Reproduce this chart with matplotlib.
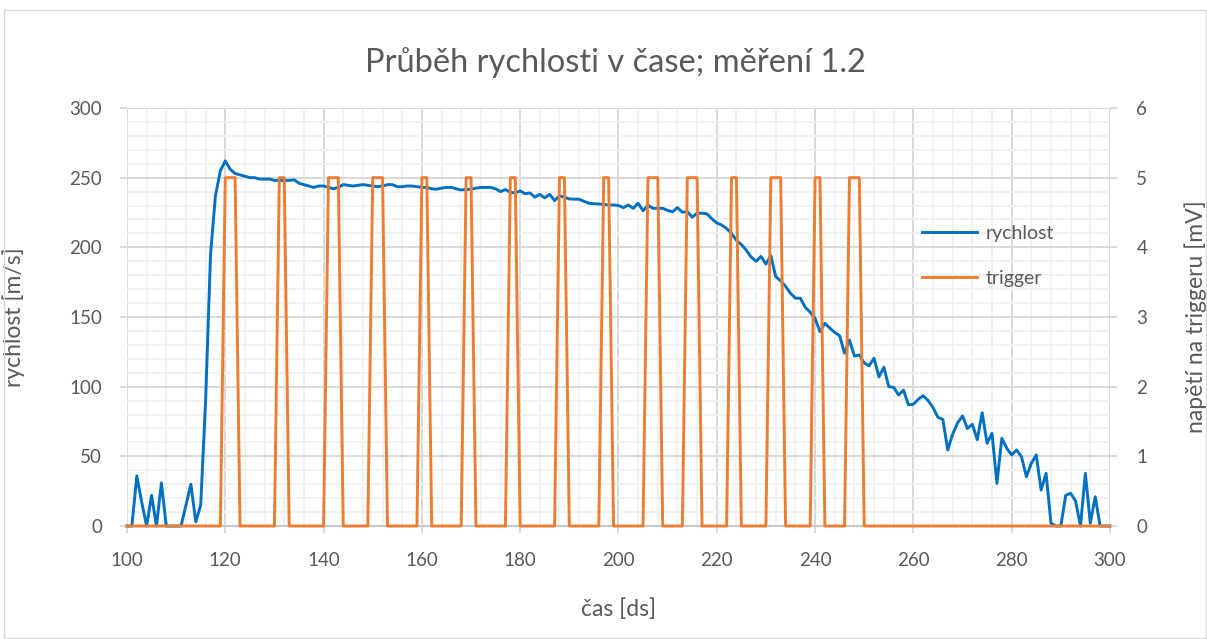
import numpy as np
import matplotlib
matplotlib.use("Agg")
import matplotlib.pyplot as plt
from matplotlib.ticker import MultipleLocator
from matplotlib.patches import Rectangle

# ---------------------------------------------------------------- data
# time samples [ds], one per ds
cas = np.arange(100, 301)

# rychlost [m/s]
rychlost = [
    0, 0, 36, 17, 0, 22, 0, 31, 0, 0,                                   # 100
    0, 0, 15, 30, 3, 15, 90, 195, 237, 255,                             # 110
    262, 256, 253, 252, 251, 250, 250, 249, 249, 249,                   # 120
    248, 248, 248, 248, 248.5, 246, 245, 244, 243, 244,                 # 130
    244, 243, 242, 243, 245, 244.5, 244, 244.5, 245, 244.5,             # 140
    244, 243.5, 244, 245, 245, 243.5, 243.5, 244, 244, 243.5,           # 150
    243, 243, 242, 241.7, 242.5, 243, 243, 242, 241.2, 241.5,           # 160
    241.7, 242.5, 243, 243, 243, 242, 240, 241.5, 239.5, 239,           # 170
    240.5, 238.5, 239, 236, 238, 235.5, 238, 233.5, 237, 236,           # 180
    234.7, 234.6, 234.5, 233, 231.6, 231.3, 231.1, 230.8, 230.4, 230.4, # 190
    230, 228.5, 230.4, 228, 231.6, 226.3, 230.2, 228, 228, 228,         # 200
    226.5, 225.5, 228.5, 225.2, 225.7, 221.6, 224.5, 224.5, 224, 220.5, # 210
    217.5, 216, 213.5, 210, 205, 202, 198, 193, 190, 193.5,             # 220
    188, 194, 179, 176, 172, 167, 163.5, 163.5, 157, 153.5,             # 230
    149, 139.5, 145.5, 142, 139, 136.5, 124, 133.5, 122, 122.8,         # 240
    117, 115, 120.4, 107, 113.9, 100, 99.5, 94, 97.5, 87,               # 250
    87.4, 91, 93.5, 90, 85, 78, 76.5, 54.6, 66, 74,                     # 260
    79, 70, 73, 62, 81.3, 59.4, 66.5, 30.6, 63, 55.8,                   # 270
    51, 54.6, 49.7, 35.4, 45, 51, 25.8, 37.8, 2, 0,                     # 280
    0, 22, 23.5, 18, 0, 37.8, 2, 21, 0, 0,                              # 290
    0,                                                                  # 300
]

# trigger voltage [mV]
trigger = [
    0, 0, 0, 0, 0, 0, 0, 0, 0, 0,   # 100
    0, 0, 0, 0, 0, 0, 0, 0, 0, 0,   # 110
    5, 5, 5, 0, 0, 0, 0, 0, 0, 0,   # 120
    0, 5, 5, 0, 0, 0, 0, 0, 0, 0,   # 130
    0, 5, 5, 5, 0, 0, 0, 0, 0, 0,   # 140
    5, 5, 5, 0, 0, 0, 0, 0, 0, 0,   # 150
    5, 5, 0, 0, 0, 0, 0, 0, 0, 5,   # 160
    5, 0, 0, 0, 0, 0, 0, 0, 5, 5,   # 170
    0, 0, 0, 0, 0, 0, 0, 0, 5, 5,   # 180
    0, 0, 0, 0, 0, 0, 0, 5, 5, 0,   # 190
    0, 0, 0, 0, 0, 0, 5, 5, 5, 0,   # 200
    0, 0, 0, 0, 5, 5, 5, 0, 0, 0,   # 210
    0, 0, 0, 5, 5, 0, 0, 0, 0, 0,   # 220
    0, 5, 5, 5, 0, 0, 0, 0, 0, 0,   # 230
    5, 5, 0, 0, 0, 0, 0, 5, 5, 5,   # 240
    0, 0, 0, 0, 0, 0, 0, 0, 0, 0,   # 250
    0, 0, 0, 0, 0, 0, 0, 0, 0, 0,   # 260
    0, 0, 0, 0, 0, 0, 0, 0, 0, 0,   # 270
    0, 0, 0, 0, 0, 0, 0, 0, 0, 0,   # 280
    0, 0, 0, 0, 0, 0, 0, 0, 0, 0,   # 290
    0,                              # 300
]

# ---------------------------------------------------------------- style
plt.rcParams["font.family"] = ["Lato", "DejaVu Sans"]
TXT = "#595959"
BLUE = "#0070C0"
ORANGE = "#ED7D31"
GRID_MAJ = "#d9d9d9"
GRID_MIN = "#f0f0f0"

fig = plt.figure(figsize=(12.07, 6.39), dpi=100)
fig.patch.set_facecolor("white")
fig.patches.append(Rectangle((4 / 1207, 0.002), 1 - 5 / 1207, 1 - 10 / 639 - 0.002,
                             transform=fig.transFigure, fill=False,
                             edgecolor="#d9d9d9", lw=1))

ax = fig.add_axes([0.1052, 0.1768, 0.8144, 0.6542])
ax2 = ax.twinx()

l1, = ax.plot(cas, rychlost, color=BLUE, lw=2.1, clip_on=False, zorder=3, label="rychlost")
l2, = ax2.plot(cas, trigger, color=ORANGE, lw=2.1, clip_on=False, zorder=3, label="trigger")

ax.set_xlim(100, 300)
ax.set_ylim(0, 300)
ax2.set_ylim(0, 6)

ax.xaxis.set_major_locator(MultipleLocator(20))
ax.xaxis.set_minor_locator(MultipleLocator(4))
ax.yaxis.set_major_locator(MultipleLocator(50))
ax.yaxis.set_minor_locator(MultipleLocator(10))
ax2.yaxis.set_major_locator(MultipleLocator(1))

ax.set_axisbelow(True)
ax.grid(which="major", color=GRID_MAJ, lw=1.4)
ax.grid(which="minor", color=GRID_MIN, lw=1.2)

for a in (ax, ax2):
    for s in a.spines.values():
        s.set_visible(False)
# horizontal axis line a touch darker than the grid
ax.spines["bottom"].set_visible(True)
ax.spines["bottom"].set_color("#c8c8c8")
ax.spines["bottom"].set_linewidth(1.5)

ax.tick_params(which="major", length=5, width=1.4, color=GRID_MAJ,
               labelsize=13.5, labelcolor=TXT)
ax.tick_params(axis="y", pad=13)
ax.tick_params(axis="x", pad=14)
ax.tick_params(which="minor", length=0)
ax2.tick_params(which="major", length=5, width=1.4, color=GRID_MAJ,
                labelsize=13.5, labelcolor=TXT, pad=14)

ax.set_xlabel("čas [ds]", fontsize=16.5, color=TXT)
ax.set_ylabel("rychlost [m/s]", fontsize=16.5, color=TXT)
ax2.set_ylabel("napětí na triggeru [mV]", fontsize=16.5, color=TXT)
ax.xaxis.set_label_coords(0.5, -0.172)
ax.yaxis.set_label_coords(-0.104, 0.5)
ax2.yaxis.set_label_coords(1.076, 0.5)

fig.text(0.510, 0.902, "Průběh rychlosti v čase; měření 1.2",
         fontsize=23.5, color=TXT, ha="center", va="center")

leg = ax2.legend(handles=[l1, l2], loc="upper left", bbox_to_anchor=(0.809, 0.720),
                 frameon=False, fontsize=14, handlelength=2.8, handletextpad=0.45,
                 labelspacing=1.45, borderpad=0, borderaxespad=0)
for t in leg.get_texts():
    t.set_color(TXT)

fig.savefig("out.png", dpi=100)
